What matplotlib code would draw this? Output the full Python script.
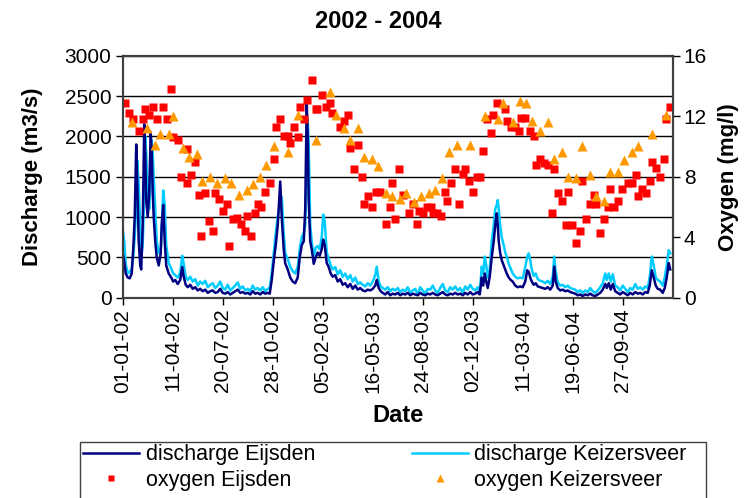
import numpy as np
import pandas as pd
import matplotlib
matplotlib.use("Agg")
import matplotlib.pyplot as plt
import matplotlib.dates as mdates
from matplotlib.patches import Rectangle

plt.rcParams['font.family'] = ['Liberation Sans', 'DejaVu Sans']

start = pd.Timestamp('2002-01-01')

# discharge (m3/s) at key points, days since 01-01-02
q_day = [0, 3, 6, 10, 14, 18, 21, 24, 27, 29, 32, 35, 37, 40, 43, 45, 47, 50, 53, 56,
         58, 60, 62, 65, 68, 72, 76, 78, 81, 84, 87, 92, 97, 101, 105, 110, 115, 119, 122, 126,
         130, 135, 140, 145, 150, 155, 160, 165, 170, 175, 180, 185, 190, 195, 200, 205, 210, 215, 220, 225,
         230, 235, 240, 245, 250, 255, 260, 265, 270, 275, 280, 285, 290, 294, 298, 302, 306, 310, 315, 318,
         322, 325, 330, 335, 340, 345, 350, 354, 358, 362, 365, 368, 370, 372, 375, 378, 382, 386, 390, 394,
         398, 401, 404, 408, 412, 416, 420, 425, 430, 435, 440, 445, 450, 455, 460, 465, 470, 475, 480, 485,
         490, 495, 500, 505, 508, 512, 516, 520, 525, 530, 535, 540, 545, 550, 555, 560, 565, 570, 575, 580,
         585, 590, 595, 600, 605, 610, 615, 620, 625, 630, 635, 640, 645, 650, 655, 660, 665, 670, 675, 680,
         685, 690, 695, 700, 705, 710, 714, 718, 721, 724, 727, 730, 734, 738, 742, 745, 748, 750, 752, 755,
         758, 762, 765, 768, 772, 776, 780, 785, 790, 795, 800, 805, 809, 812, 815, 818, 822, 826, 830, 835,
         840, 845, 850, 855, 860, 863, 866, 870, 875, 880, 885, 890, 895, 900, 905, 910, 915, 920, 925, 930,
         935, 940, 945, 950, 955, 960, 965, 968, 972, 976, 980, 985, 990, 995, 1000, 1005, 1010, 1015, 1020, 1025,
         1030, 1035, 1040, 1045, 1050, 1054, 1058, 1062, 1066, 1070, 1075, 1080, 1084, 1088, 1092, 1095]

q_eijsden = [550, 450, 300, 250, 240, 300, 600, 1000, 1900, 1450, 700, 400, 350, 900, 2150, 1800, 1200, 1000, 1300, 2050,
             1800, 1300, 1000, 700, 500, 400, 550, 900, 1150, 700, 400, 300, 250, 200, 220, 170, 220, 380, 260, 160,
             130, 160, 110, 130, 90, 110, 80, 100, 60, 80, 90, 60, 70, 110, 60, 50, 70, 40, 60, 80,
             100, 60, 70, 50, 60, 40, 80, 50, 60, 40, 70, 50, 60, 50, 220, 450, 650, 900, 1440, 1000,
             600, 425, 350, 250, 200, 180, 250, 500, 650, 700, 1100, 2420, 2000, 1200, 700, 600, 420, 500, 560, 520,
             600, 720, 650, 430, 380, 300, 260, 280, 200, 230, 160, 180, 130, 170, 110, 150, 100, 120, 90, 80,
             100, 90, 110, 150, 220, 120, 80, 60, 40, 70, 30, 50, 40, 60, 30, 50, 40, 60, 30, 50,
             40, 30, 60, 40, 30, 50, 40, 60, 40, 30, 50, 70, 40, 30, 50, 40, 60, 40, 50, 30,
             60, 40, 70, 40, 50, 70, 40, 250, 150, 300, 200, 120, 260, 500, 700, 900, 1045, 900, 700, 550,
             465, 400, 350, 300, 250, 220, 200, 150, 130, 140, 130, 200, 340, 320, 250, 200, 160, 180, 140, 130,
             120, 110, 130, 100, 150, 385, 200, 120, 90, 100, 80, 90, 70, 60, 50, 30, 40, 20, 40, 30,
             50, 30, 20, 40, 60, 100, 170, 120, 180, 100, 170, 80, 60, 40, 70, 50, 30, 60, 40, 70,
             50, 60, 40, 70, 60, 150, 340, 250, 150, 110, 100, 60, 120, 250, 430, 350]

q_keizersveer = [850, 700, 420, 300, 320, 360, 520, 750, 1150, 1700, 1400, 900, 500, 650, 1300, 2000, 1800, 1300, 1100, 1500,
                 1950, 1800, 1500, 1100, 700, 550, 600, 850, 1330, 1150, 650, 430, 360, 300, 280, 250, 310, 520, 420, 260,
                 220, 260, 200, 230, 150, 200, 170, 210, 130, 160, 180, 120, 150, 200, 120, 100, 160, 90, 120, 150,
                 190, 110, 140, 90, 110, 80, 150, 100, 120, 90, 130, 80, 110, 120, 300, 550, 800, 1000, 1150, 1250,
                 800, 550, 480, 380, 330, 300, 380, 600, 750, 800, 900, 1500, 2200, 1900, 900, 700, 510, 620, 640, 600,
                 750, 1030, 950, 560, 480, 400, 350, 380, 290, 340, 260, 300, 230, 280, 200, 250, 170, 190, 160, 140,
                 180, 150, 200, 280, 385, 200, 140, 120, 100, 130, 80, 110, 90, 120, 70, 100, 80, 130, 60, 90,
                 110, 40, 130, 90, 50, 110, 100, 150, 90, 60, 120, 170, 90, 70, 130, 100, 140, 90, 120, 60,
                 140, 100, 160, 110, 90, 130, 60, 385, 300, 510, 400, 250, 350, 700, 900, 1100, 1150, 1210, 1100, 900,
                 750, 650, 560, 510, 420, 360, 300, 260, 240, 250, 240, 380, 510, 550, 470, 350, 270, 300, 230, 210,
                 200, 180, 210, 170, 260, 510, 320, 190, 150, 160, 130, 150, 120, 110, 100, 70, 90, 60, 90, 70,
                 120, 80, 60, 90, 130, 180, 300, 220, 300, 200, 290, 150, 130, 90, 150, 110, 70, 120, 100, 170,
                 110, 130, 100, 140, 120, 260, 510, 400, 250, 220, 200, 150, 250, 400, 590, 550]

# oxygen (mg/l)
ox_e_day = [5, 13, 21, 33, 40, 45, 53, 61, 69, 81, 88, 97, 101, 111, 117, 128, 129, 137, 145, 153,
            157, 165, 173, 181, 185, 193, 201, 209, 213, 221, 229, 237, 245, 249, 257, 265, 271, 277, 285, 294,
            302, 306, 314, 322, 330, 334, 342, 350, 354, 362, 369, 378, 386, 389, 398, 406, 414, 418, 434, 442,
            450, 454, 462, 470, 478, 482, 490, 498, 506, 514, 526, 534, 538, 545, 553, 561, 573, 581, 589, 593,
            601, 609, 617, 621, 629, 637, 645, 649, 657, 665, 673, 681, 685, 693, 701, 709, 714, 721, 729, 737,
            741, 749, 765, 769, 777, 785, 793, 797, 805, 814, 822, 826, 834, 842, 850, 858, 862, 870, 878, 886,
            890, 898, 906, 914, 918, 926, 934, 942, 946, 954, 962, 970, 974, 982, 990, 998, 1010, 1018, 1026, 1030,
            1038, 1046, 1054, 1058, 1066, 1074, 1082, 1086, 1094]
ox_eijsden = [12.9, 12.2, 11.8, 11.0, 11.8, 12.5, 12.1, 12.6, 11.8, 12.6, 11.8, 13.8, 10.6, 10.4, 8.0, 9.8, 7.6, 8.1, 9.0, 6.8,
              4.1, 6.9, 5.1, 4.4, 6.9, 6.5, 5.7, 6.2, 3.4, 5.2, 5.3, 4.9, 4.4, 5.4, 4.1, 5.6, 6.2, 6.0, 7.0, 7.6,
              9.2, 11.3, 11.8, 10.7, 10.7, 10.2, 11.3, 10.6, 12.6, 11.8, 13.1, 14.4, 12.5, 12.5, 13.4, 12.6, 12.9, 12.2, 11.3, 11.7,
              12.1, 9.9, 8.5, 10.1, 8.0, 6.2, 6.7, 6.0, 7.0, 7.0, 4.9, 6.0, 7.6, 5.2, 8.5, 6.8, 5.6, 6.2, 4.9, 5.7,
              5.6, 6.0, 6.0, 5.6, 5.6, 5.4, 7.0, 6.4, 7.6, 8.5, 6.2, 8.2, 8.5, 7.7, 7.0, 8.0, 8.0, 9.7, 11.8, 10.9,
              12.1, 12.9, 12.5, 11.7, 11.3, 11.3, 11.0, 11.9, 11.9, 11.0, 10.7, 8.8, 9.2, 8.9, 8.8, 5.6, 8.5, 6.9, 6.4, 4.8,
              7.0, 4.8, 3.6, 4.4, 7.7, 5.2, 6.2, 6.8, 6.2, 4.3, 5.2, 6.0, 7.2, 6.0, 6.4, 7.2, 7.6, 7.6, 8.1, 6.7,
              7.2, 6.9, 7.7, 9.0, 8.6, 8.0, 9.2, 11.8, 12.6]

ox_k_day = [19, 48, 64, 75, 92, 101, 120, 132, 148, 159, 175, 188, 204, 216, 232, 248, 260, 275, 287, 303,
            331, 351, 387, 415, 427, 443, 455, 471, 483, 499, 511, 527, 538, 555, 567, 583, 596, 612, 624, 639,
            652, 668, 695, 724, 751, 760, 780, 795, 807, 819, 835, 851, 863, 879, 891, 907, 919, 935, 946, 963,
            975, 991, 1003, 1019, 1031, 1059, 1087]
ox_keizersveer = [11.6, 11.2, 10.1, 10.8, 10.8, 12.0, 9.9, 9.3, 9.5, 7.7, 8.0, 7.6, 7.9, 7.6, 6.8, 7.1, 7.5, 8.0, 8.8, 10.0,
                  9.6, 12.1, 10.4, 13.6, 12.1, 11.2, 10.4, 11.2, 9.3, 9.2, 8.7, 6.9, 6.7, 6.5, 6.9, 6.3, 6.7, 6.9, 7.1, 7.9,
                  9.6, 10.1, 10.1, 12.0, 11.8, 12.9, 11.6, 13.0, 12.9, 11.7, 11.0, 11.6, 9.2, 9.6, 8.0, 7.9, 10.0, 8.1, 6.7, 6.4,
                  8.3, 8.3, 9.1, 9.6, 10.0, 10.8, 12.1]

tick_days = [0, 100, 200, 300, 400, 500, 600, 700, 800, 900, 1000]


def to_dates(days):
    return start + pd.to_timedelta(days, unit='D')


fig = plt.figure(figsize=(7.46, 4.98), dpi=100)
ax = fig.add_axes([0.1645, 0.4022, 0.7373, 0.486])

ax.plot(to_dates(q_day), q_eijsden, color='#000080', lw=1.8, label='discharge Eijsden', zorder=3)
ax.plot(to_dates(q_day), q_keizersveer, color='#00CCFF', lw=1.8, label='discharge Keizersveer', zorder=2)

ax.set_ylim(0, 3000)
ax.set_yticks(np.arange(0, 3001, 500))
ax.set_xlim(start, start + pd.Timedelta(days=1100))
ax.set_xticks(to_dates(tick_days))
ax.xaxis.set_major_formatter(mdates.DateFormatter('%d-%m-%y'))
ax.grid(axis='y', color='black', lw=1.0)
ax.set_axisbelow(True)
for lab in ax.get_xticklabels():
    lab.set_rotation(90)
ax.tick_params(labelsize=15, length=5, width=1, pad=3)

ax2 = ax.twinx()
ax2.plot(to_dates(ox_e_day), ox_eijsden, ls='none', marker='s', ms=5.5, color='#FF0000',
         mec='none', label='oxygen Eijsden')
ax2.plot(to_dates(ox_k_day), ox_keizersveer, ls='none', marker='^', ms=7.5, color='#FF9900',
         mec='none', label='oxygen Keizersveer')
ax2.set_ylim(0, 16)
ax2.set_yticks([0, 4, 8, 12, 16])
ax2.tick_params(labelsize=15, length=5, width=1, pad=3)

for a in (ax, ax2):
    for s in a.spines.values():
        s.set_color('#404040')
        s.set_linewidth(1.5)

fig.text(378 / 746, 1 - 22 / 498, '2002 - 2004', fontsize=17, fontweight='bold', ha='center', va='center')
ax.set_ylabel('Discharge (m3/s)', fontsize=16, fontweight='bold', labelpad=16)
ax2.set_ylabel('Oxygen (mg/l)', fontsize=16, fontweight='bold', rotation=90, labelpad=8)
ax.set_xlabel('Date', fontsize=17, fontweight='bold', labelpad=8)

# legend: two columns, frame drawn as a separate box like the original
h1, l1 = ax.get_legend_handles_labels()
h2, l2 = ax2.get_legend_handles_labels()
handles = [h1[0], h2[0], h1[1], h2[1]]
labels = [l1[0], l2[0], l1[1], l2[1]]
fig.legend(handles, labels, ncol=2, loc='upper left', bbox_to_anchor=(80 / 746, 1 - 441 / 498),
           fontsize=15.5, frameon=False, handlelength=2.6, markerscale=0.8,
           labelspacing=0.2, borderpad=0.15, handletextpad=0.3, columnspacing=4.5,
           borderaxespad=0)
fig.patches.append(Rectangle((80 / 746, -0.01), 626 / 746, 0.01 + 1 - 442 / 498,
                             transform=fig.transFigure, fill=False, edgecolor='#404040', lw=1.0))

fig.savefig('out.png', dpi=100)
